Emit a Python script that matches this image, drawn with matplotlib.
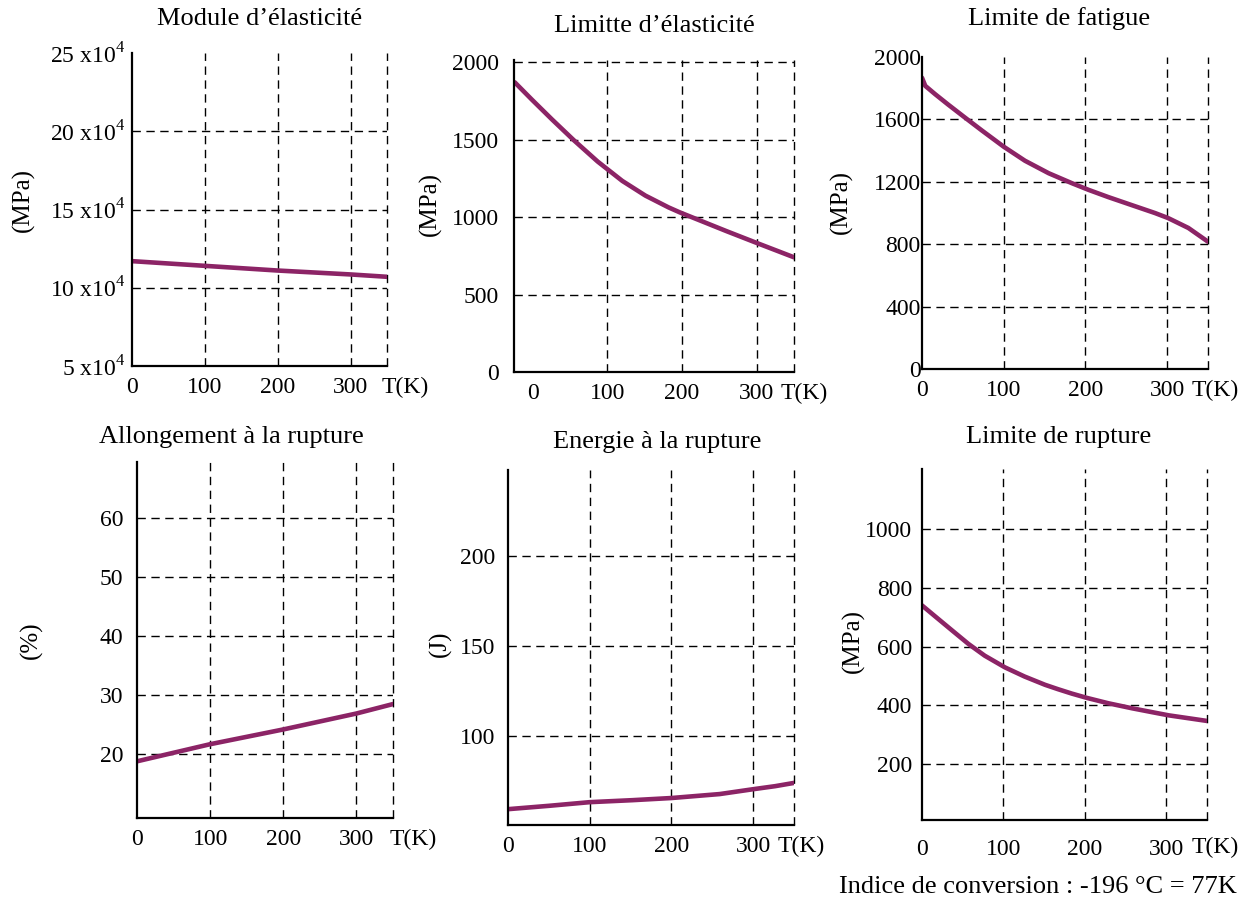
import numpy as np
import matplotlib
matplotlib.use('Agg')
import matplotlib.pyplot as plt

plt.rcParams['font.family'] = ['Liberation Serif', 'DejaVu Serif']
plt.rcParams['mathtext.fontset'] = 'custom'
plt.rcParams['mathtext.rm'] = 'Liberation Serif'

col = '#8c2466'

# data (T in K)
mod_T = [0, 100, 200, 300, 350]
mod_E = [11.7, 11.4, 11.1, 10.85, 10.7]   # x10^4 MPa

lim_T = [-24, -1, 26, 55, 87, 120, 151, 182, 197, 228, 260, 302, 350]
lim_E = [1869, 1757, 1629, 1496, 1358, 1233, 1138, 1062, 1030, 970, 908, 829, 740]

fat_T = [0, 4, 16, 32, 53, 73, 100, 126, 155, 183, 204, 228, 257, 285, 301, 326, 350]
fat_S = [1867, 1815, 1762, 1695, 1610, 1530, 1425, 1335, 1255, 1192, 1148, 1102,
         1050, 1000, 968, 904, 816]

allo_T = [0, 100, 200, 300, 350]
allo_A = [18.8, 21.7, 24.2, 26.9, 28.5]

ener_T = [0, 51, 100, 152, 200, 259, 300, 327, 350]
ener_J = [59.4, 61.3, 63.3, 64.4, 65.6, 67.8, 70.5, 72.2, 74.0]

rup_T = [0, 16, 36, 57, 77, 102, 126, 151, 167, 184, 203, 229, 258, 286, 303, 350]
rup_S = [740, 703, 657, 609, 569, 529, 498, 470, 455, 440, 425, 407, 390, 375, 366, 347]

W, H = 1247, 900
fig = plt.figure(figsize=(W / 100, H / 100), dpi=100)


def box(l, r, t, b):
    return [l / W, 1 - b / H, (r - l) / W, (b - t) / H]


def setup(ax, title, ylab, xlim, ylim, yticks, ylabels, title_x=0.5, title_pad=20,
          ylab_xy=(-0.35, 0.5), tk_dx=-4):
    ax.set_xlim(*xlim)
    ax.set_ylim(*ylim)
    for s in ['top', 'right']:
        ax.spines[s].set_visible(False)
    for s in ['left', 'bottom']:
        ax.spines[s].set_linewidth(1.6)
    ax.set_xticks([0, 100, 200, 300])
    ax.set_xticklabels(['0', '100', '200', '300'])
    ax.set_yticks(yticks)
    ax.set_yticklabels(ylabels)
    ax.tick_params(length=0, labelsize=17, pad=8)
    for x in [100, 200, 300, xlim[1]]:
        ax.axvline(x, color='black', ls=(0, (6, 4)), lw=1, clip_on=False)
    for y in yticks:
        if ylim[0] < y < ylim[1]:
            ax.axhline(y, color='black', ls=(0, (6, 4)), lw=1)
    ax.set_title(title, fontsize=19, pad=title_pad, x=title_x)
    ax.set_ylabel(ylab, fontsize=18)
    ax.yaxis.set_label_coords(*ylab_xy)
    ax.annotate('T(K)', xy=(1.0, 0), xycoords='axes fraction',
                xytext=(tk_dx, -8), textcoords='offset points',
                ha='left', va='top', fontsize=17)


line_kw = dict(color=col, lw=3.3, solid_joinstyle='round', solid_capstyle='round')

# Module d'elasticite
ax1 = fig.add_axes(box(132, 387, 53, 366))
setup(ax1, 'Module d\u2019\u00e9lasticit\u00e9', '(MPa)', (0, 350), (5, 25),
      [5, 10, 15, 20, 25], [f'{v} x10$^{{4}}$' for v in [5, 10, 15, 20, 25]],
      title_pad=20, ylab_xy=(-0.38, 0.53), tk_dx=-3.6)
ax1.tick_params(axis='y', pad=5)
ax1.plot(mod_T, mod_E, **line_kw)

# Limitte d'elasticite
ax2 = fig.add_axes(box(514, 794, 60, 372))
setup(ax2, 'Limitte d\u2019\u00e9lasticit\u00e9', '(MPa)', (-25, 350), (0, 2013),
      [0, 500, 1000, 1500, 2000], ['0', '500', '1000', '1500', '2000'],
      title_pad=20, ylab_xy=(-0.257, 0.54), tk_dx=-10)
ax2.tick_params(axis='y', pad=11)
ax2.plot(lim_T, lim_E, **line_kw)

# Limite de fatigue
ax3 = fig.add_axes(box(922, 1208, 57, 369))
setup(ax3, 'Limite de fatigue', '(MPa)', (0, 350), (0, 2000),
      [0, 400, 800, 1200, 1600, 2000], ['0', '400', '800', '1200', '1600', '2000'],
      title_x=0.48, title_pad=23, ylab_xy=(-0.241, 0.535), tk_dx=-11.5)
ax3.tick_params(axis='y', pad=1)
ax3.plot(fat_T, fat_S, **line_kw)

# Allongement a la rupture
ax4 = fig.add_axes(box(137, 393, 462, 818))
setup(ax4, 'Allongement \u00e0 la rupture', '(%)', (0, 350), (9.2, 69.5),
      [20, 30, 40, 50, 60], ['20', '30', '40', '50', '60'],
      title_x=0.37, title_pad=14, ylab_xy=(-0.367, 0.5), tk_dx=-2.2)
ax4.tick_params(axis='y', pad=10)
ax4.plot(allo_T, allo_A, **line_kw)

# Energie a la rupture
ax5 = fig.add_axes(box(508, 794, 470, 825))
setup(ax5, 'Energie \u00e0 la rupture', '(J)', (0, 350), (50.6, 248),
      [100, 150, 200], ['100', '150', '200'],
      title_x=0.52, title_pad=16, ylab_xy=(-0.196, 0.51), tk_dx=-11.5)
ax5.tick_params(axis='y', pad=9)
ax5.plot(ener_T, ener_J, **line_kw)

# Limite de rupture
ax6 = fig.add_axes(box(922, 1207, 469, 820))
setup(ax6, 'Limite de rupture', '(MPa)', (0, 350), (10, 1204),
      [200, 400, 600, 800, 1000], ['200', '400', '600', '800', '1000'],
      title_x=0.48, title_pad=19, ylab_xy=(-0.2, 0.51), tk_dx=-10.8)
ax6.tick_params(axis='y', pad=7)
ax6.tick_params(axis='x', pad=14)
ax6.plot(rup_T, rup_S, **line_kw)
ax6.texts[-1].set_position((-10.8, -12))

fig.text(1237 / W, 1 - 887 / H, 'Indice de conversion : -196 \u00b0C = 77K',
         ha='right', va='center', fontsize=19)

plt.savefig('out.png', dpi=100)
